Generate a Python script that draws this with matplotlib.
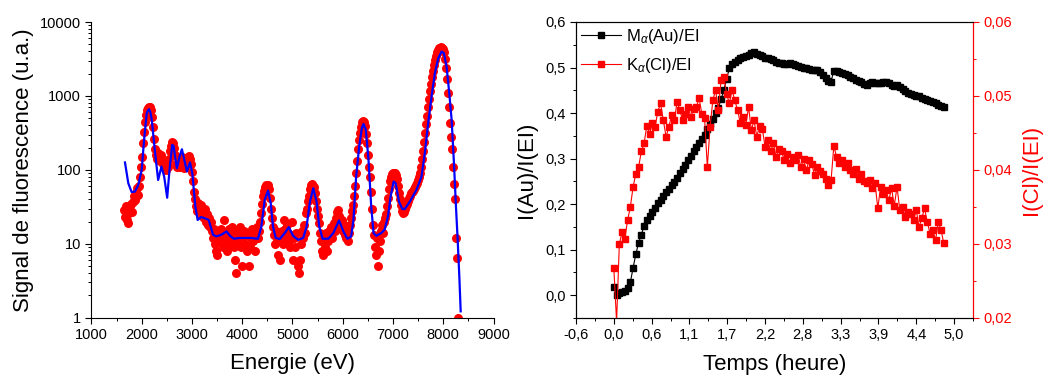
import numpy as np
import matplotlib
matplotlib.use('Agg')
import matplotlib.pyplot as plt
from matplotlib.ticker import MultipleLocator, LogLocator, NullFormatter

plt.rcParams['font.family'] = ['Liberation Sans', 'DejaVu Sans']
plt.rcParams['mathtext.fontset'] = 'custom'
plt.rcParams['mathtext.rm'] = 'Liberation Sans'
plt.rcParams['mathtext.it'] = 'Liberation Sans:italic'

# --- spectre de fluorescence (canaux de 20 eV a partir de 1640 eV) ---
e0, de = 1640, 20
signal = [
    29, 23, 32, 21, 19, 26, 32, 35, 27, 37,
    44, 39, 48, 56, 46, 60, 81, 110, 150, 230,
    330, 450, 560, 640, 690, 710, 700, 640, 520, 380,
    260, 190, 160, 140, 170, 150, 130, 160, 140, 120,
    110, 130, 100, 120, 110, 140, 180, 210, 240, 230,
    200, 160, 120, 110, 120, 140, 110, 120, 150, 110,
    105, 115, 110, 130, 150, 155, 140, 120, 95, 70,
    50, 40, 32, 28, 36, 30, 26, 33, 24, 28,
    22, 30, 20, 25, 18, 22, 17, 20, 15, 12,
    16, 10, 8, 7, 12, 14, 11, 16, 13, 9,
    21, 14, 11, 8, 13, 16, 10, 12, 17, 15,
    9, 6, 4, 11, 14, 12, 17, 9, 5, 12,
    15, 10, 13, 8, 14, 5, 9, 12, 16, 11,
    13, 8, 14, 17, 12, 15, 20, 26, 35, 45,
    52, 58, 62, 60, 63, 55, 42, 30, 22, 17,
    13, 10, 15, 11, 7, 14, 6, 12, 15, 10,
    21, 16, 12, 18, 14, 11, 9, 13, 20, 6,
    12, 9, 14, 5, 4, 6, 10, 15, 12, 18,
    14, 26, 30, 38, 45, 55, 62, 64, 60, 58,
    48, 38, 30, 24, 19, 14, 11, 8, 7, 12,
    9, 14, 8, 11, 15, 13, 17, 12, 16, 19,
    15, 22, 27, 29, 24, 20, 17, 21, 15, 18,
    13, 12, 16, 11, 14, 18, 22, 28, 33, 45,
    60, 90, 130, 190, 250, 320, 380, 440, 460, 450,
    390, 310, 230, 160, 110, 80, 50, 30, 18, 13,
    9, 7, 12, 5, 8, 11, 15, 18, 14, 20,
    22, 25, 32, 42, 55, 70, 80, 88, 90, 92,
    90, 85, 75, 60, 48, 40, 33, 28, 26, 27,
    30, 32, 35, 38, 42, 45, 48, 50, 52, 55,
    58, 62, 66, 72, 80, 92, 110, 140, 180, 240,
    320, 420, 540, 700, 900, 1150, 1450, 1800, 2200, 2650,
    3100, 3500, 3900, 4200, 4400, 4500, 4550, 4500, 4300, 3900,
    3200, 2400, 1700, 1100, 700, 430, 280, 190, 110, 65,
    40, 12, 6.5, 1,
]
energie = e0 + de * np.arange(len(signal))

# ajustement (courbe bleue)
fit_e = [1667, 1733, 1800, 1867, 1933, 2000, 2047, 2100, 2125, 2147, 2170, 2200,
         2267, 2327, 2393, 2447, 2507, 2553, 2607, 2633, 2700, 2753, 2800, 2847,
         2900, 2960, 3007, 3067, 3113, 3180, 3267, 3333, 3420, 3487, 3580, 3687,
         3767, 3833, 3950, 4167, 4313, 4380, 4447, 4513, 4567, 4613, 4667, 4747,
         4847, 4927, 5013, 5113, 5213, 5280, 5347, 5413, 5480, 5533, 5600, 5713,
         5813, 5927, 6013, 6093, 6167, 6213, 6267, 6327, 6380, 6413, 6460, 6513,
         6567, 6613, 6667, 6767, 6833, 6900, 6953, 7013, 7053, 7120, 7187, 7233,
         7333, 7467, 7567, 7633, 7700, 7767, 7833, 7900, 7967, 8013, 8067, 8120,
         8167, 8213, 8253, 8287, 8320, 8347]
fit_v = [126, 66, 50, 51, 63, 100, 254, 583, 640, 660, 610, 474,
         168, 73, 111, 81, 42, 100, 218, 211, 105, 151, 190, 137,
         95, 126, 90, 32, 21, 23, 22, 21, 13.2, 12.6, 13.2, 14.7,
         12.6, 11.7, 12, 12, 11.7, 17, 39, 52.5, 35.5, 17, 12, 11.6,
         14, 16.8, 12.8, 11.3, 12, 17, 37, 56.5, 37, 17, 11.7, 11.7,
         14, 20.7, 14.7, 11.7, 12.5, 21, 81, 207, 366, 418, 347, 136,
         32, 14, 12.8, 14, 15.5, 23.4, 43.6, 69.5, 66, 37, 29.5, 29.5,
         37, 53.6, 81, 168, 426, 980, 2020, 3230, 3980, 3800, 2460, 1087,
         474, 123, 32, 11.3, 3.6, 1.22]

# --- cinetique (pas de 0,04 h) ---
dt = 0.04
au = [0.018, 0.0, 0.004, 0.008, 0.010, 0.016, 0.028, 0.060, 0.090, 0.115,
      0.133, 0.152, 0.165, 0.175, 0.183, 0.192, 0.202, 0.210, 0.217, 0.226,
      0.234, 0.242, 0.248, 0.258, 0.268, 0.277, 0.286, 0.296, 0.306, 0.316,
      0.326, 0.335, 0.344, 0.352, 0.365, 0.375, 0.388, 0.400, 0.412, 0.430,
      0.450, 0.474, 0.498, 0.508, 0.513, 0.517, 0.520, 0.524, 0.526, 0.528,
      0.531, 0.534, 0.530, 0.527, 0.526, 0.522, 0.521, 0.518, 0.517, 0.513,
      0.511, 0.509, 0.508, 0.507, 0.509, 0.508, 0.506, 0.503, 0.502, 0.499,
      0.498, 0.496, 0.495, 0.494, 0.494, 0.491, 0.484, 0.476, 0.470, 0.469,
      0.493, 0.492, 0.491, 0.488, 0.485, 0.483, 0.480, 0.476, 0.473, 0.470,
      0.468, 0.464, 0.462, 0.465, 0.469, 0.467, 0.465, 0.466, 0.468, 0.469,
      0.466, 0.462, 0.460, 0.461, 0.458, 0.453, 0.449, 0.445, 0.442, 0.440,
      0.438, 0.437, 0.434, 0.431, 0.429, 0.427, 0.425, 0.421, 0.418, 0.416,
      0.414]
cl = [0.0267, 0.0195, 0.0300, 0.0316, 0.0307, 0.0332, 0.0350, 0.0377, 0.0395, 0.0404,
      0.0425, 0.0436, 0.0460, 0.0449, 0.0463, 0.0458, 0.0479, 0.0490, 0.0467, 0.0445,
      0.0458, 0.0474, 0.0467, 0.0492, 0.0481, 0.0467, 0.0476, 0.0485, 0.0472, 0.0482,
      0.0485, 0.0497, 0.0476, 0.0470, 0.0404, 0.0458, 0.0494, 0.0508, 0.0481, 0.0521,
      0.0526, 0.0503, 0.0490, 0.0508, 0.0494, 0.0481, 0.0463, 0.0472, 0.0461, 0.0485,
      0.0454, 0.0467, 0.0445, 0.0460, 0.0456, 0.0431, 0.0440, 0.0425, 0.0436, 0.0418,
      0.0428, 0.0425, 0.0413, 0.0422, 0.0409, 0.0418, 0.0413, 0.0420, 0.0404, 0.0415,
      0.0400, 0.0413, 0.0408, 0.0393, 0.0404, 0.0398, 0.0395, 0.0388, 0.0380, 0.0386,
      0.0432, 0.0418, 0.0409, 0.0413, 0.0404, 0.0409, 0.0400, 0.0395, 0.0402, 0.0388,
      0.0395, 0.0385, 0.0382, 0.0386, 0.0375, 0.0382, 0.0348, 0.0377, 0.0368, 0.0373,
      0.0359, 0.0375, 0.0352, 0.0377, 0.0346, 0.0350, 0.0337, 0.0343, 0.0341, 0.0332,
      0.0346, 0.0323, 0.0335, 0.0348, 0.0330, 0.0314, 0.0319, 0.0305, 0.0330, 0.0319,
      0.0301]
t_au = dt * np.arange(len(au))
t_cl = dt * np.arange(len(cl))

t_ticks = [-0.55, 0.0, 0.55, 1.1, 1.65, 2.2, 2.75, 3.3, 3.85, 4.4, 4.95]
t_labels = ['-0,6', '0,0', '0,6', '1,1', '1,7', '2,2', '2,8', '3,3', '3,9', '4,4', '5,0']
au_ticks = [0.0, 0.1, 0.2, 0.3, 0.4, 0.5, 0.6]
au_labels = ['0,0', '0,1', '0,2', '0,3', '0,4', '0,5', '0,6']
cl_ticks = [0.02, 0.03, 0.04, 0.05, 0.06]
cl_labels = ['0,02', '0,03', '0,04', '0,05', '0,06']

fs_tick = 10.5
fs_lab = 16

fig = plt.figure(figsize=(10.5, 3.79), dpi=100)

# ---------- spectre ----------
ax1 = fig.add_axes([0.0871, 0.1617, 0.3829, 0.7802])
ax1.scatter(energie, signal, s=42, color='red', linewidths=0, zorder=2)
ax1.plot(fit_e, fit_v, color='blue', lw=1.6, zorder=3)
ax1.set_yscale('log')
ax1.set_xlim(1000, 9000)
ax1.set_ylim(1, 10000)
ax1.set_xticks(range(1000, 9001, 1000))
ax1.xaxis.set_minor_locator(MultipleLocator(500))
ax1.set_yticks([1, 10, 100, 1000, 10000])
ax1.set_yticklabels(['1', '10', '100', '1000', '10000'])
ax1.yaxis.set_minor_locator(LogLocator(base=10, subs=np.arange(2, 10)))
ax1.yaxis.set_minor_formatter(NullFormatter())
for s in ['top', 'right']:
    ax1.spines[s].set_visible(False)
ax1.tick_params(which='major', direction='out', length=4, width=0.8, labelsize=fs_tick)
ax1.tick_params(which='minor', direction='out', length=2.5, width=0.7)
ax1.set_xlabel('Energie (eV)', fontsize=fs_lab, labelpad=8)
ax1.set_ylabel('Signal de fluorescence (u.a.)', fontsize=fs_lab, labelpad=4)

# ---------- cinetique ----------
ax2 = fig.add_axes([0.5486, 0.161, 0.3784, 0.781])
ax3 = ax2.twinx()
l1, = ax2.plot(t_au, au, '-s', color='black', ms=4.4, lw=0.8, label=r'M$_\alpha$(Au)/EI', zorder=3)
l2, = ax3.plot(t_cl, cl, '-s', color='red', ms=4.4, lw=0.8, label=r'K$_\alpha$(Cl)/EI', zorder=2)
ax2.set_xlim(-0.55, 5.23)
ax2.set_ylim(-0.05, 0.6)
ax3.set_ylim(0.02, 0.06)
ax2.set_xticks(t_ticks)
ax2.set_xticklabels(t_labels)
ax2.xaxis.set_minor_locator(MultipleLocator(0.275))
ax2.set_yticks(au_ticks)
ax2.set_yticklabels(au_labels)
ax2.yaxis.set_minor_locator(MultipleLocator(0.05))
ax3.set_yticks(cl_ticks)
ax3.set_yticklabels(cl_labels)
ax3.yaxis.set_minor_locator(MultipleLocator(0.005))
ax2.tick_params(which='major', direction='out', length=4, width=0.8, labelsize=fs_tick)
ax2.tick_params(which='minor', direction='out', length=2.5, width=0.7)
ax3.tick_params(which='both', colors='red', labelsize=fs_tick)
ax3.tick_params(which='major', direction='out', length=4, width=0.8)
ax3.tick_params(which='minor', direction='out', length=2.5, width=0.7)
ax3.spines['right'].set_color('red')
ax2.spines['right'].set_color('red')
ax2.set_xlabel('Temps (heure)', fontsize=fs_lab, labelpad=8)
ax2.set_ylabel('I(Au)/I(EI)', fontsize=fs_lab, labelpad=6)
ax3.set_ylabel('I(Cl)/I(EI)', fontsize=fs_lab, color='red', labelpad=6)

ax3.legend([l1, l2], [l1.get_label(), l2.get_label()], loc='upper left',
           bbox_to_anchor=(0.0, 1.0), frameon=False, fontsize=12,
           handlelength=2.4, handletextpad=0.3, labelspacing=0.6,
           borderaxespad=0.1, borderpad=0.2)

fig.savefig('out.png', dpi=100)
